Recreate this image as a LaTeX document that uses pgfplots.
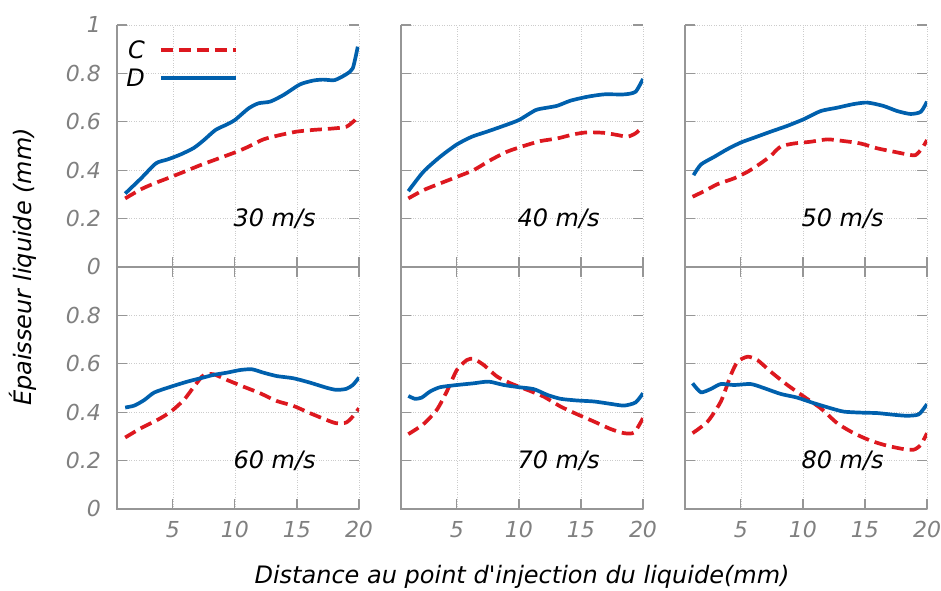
\documentclass[border=0pt]{standalone}
\usepackage{pgfplots}
\pgfplotsset{compat=1.18}
\usepgfplotslibrary{groupplots}
\usepackage{fontspec}
\setmainfont{DejaVu Sans}[Ligatures=TeXOff]
\definecolor{cred}{RGB}{221,24,31}
\definecolor{cblue}{RGB}{0,96,173}
\definecolor{axgray}{RGB}{150,150,150}
\definecolor{tickgray}{RGB}{128,128,128}
\newcommand{\lfont}{\itshape\fontsize{24}{28}\selectfont}
\newcommand{\tfont}{\itshape\fontsize{22}{26}\selectfont}
\tikzset{lab/.style={font=\lfont, text=black}}
\pgfplotsset{
 Cs/.style={cred, line width=3.7pt, dash pattern=on 12pt off 6pt, smooth, tension=0.4},
 Ds/.style={cblue, line width=3.7pt, smooth, tension=0.4},
 legend image code/.code={\path[draw=none, fill=none] (0pt,-2pt) rectangle (89pt,2pt);\draw[#1, line width=3.9pt] (14pt,0pt) -- (89pt,0pt);},
}
\begin{document}
\begin{tikzpicture}
\begin{groupplot}[
 group style={group size=3 by 2, horizontal sep=42pt, vertical sep=0pt,
   xticklabels at=edge bottom, yticklabels at=edge left},
 scale only axis, width=242pt, height=242pt,
 xmin=0.5, xmax=20, ymin=0, ymax=1,
 xtick={5,10,15,20}, ytick={0,0.2,0.4,0.6,0.8,1},
 grid=major, grid style={dotted, line width=0.6pt, gray!40},
 axis line style={draw=none},
 tick align=inside, major tick length=10pt,
 tick style={axgray, line width=1.2pt},
 /pgf/number format/assume math mode=true,
 ticklabel style={font=\tfont, text=tickgray, inner sep=0pt},
 xticklabel style={yshift=-12pt},
 yticklabel style={xshift=-16pt},
 label style={font=\lfont},
 extra description/.code={\draw[axgray, line width=1.2pt] (0,1) -- (0,0) -- (1,0);},
 no marks,
]
% ---------- 30 m/s
\nextgroupplot[xtick pos=bottom,
  legend style={at={(axis description cs:0.03,0.945)}, anchor=north west, draw=none, fill=none,
    font=\lfont, inner sep=0pt, row sep=5pt, nodes={inner sep=2pt}},
  legend plot pos=right, legend cell align=right]
\addplot[Cs] coordinates {(1.16,0.283)(2.44,0.321)(3.5,0.345)(4.57,0.366)(5.9,0.393)(7.24,0.421)(8.57,0.446)(10,0.473)(10.97,0.494)(12.3,0.527)(13.64,0.545)(14.97,0.559)(16.3,0.566)(17.9,0.572)(18.97,0.579)(19.64,0.605)(19.9,0.62)};
\addplot[Ds] coordinates {(1.16,0.303)(2.44,0.366)(3.64,0.428)(4.57,0.444)(5.64,0.465)(6.7,0.492)(7.5,0.524)(8.44,0.566)(9.37,0.589)(10,0.607)(11.1,0.655)(11.9,0.676)(12.84,0.683)(13.9,0.71)(15.24,0.754)(16.3,0.77)(17.1,0.774)(18.04,0.772)(18.97,0.796)(19.5,0.821)(19.9,0.91)};
\legend{C,D}
\node[lab] at (axis cs:13.2,0.2) {30 m/s};
% ---------- 40 m/s
\nextgroupplot[xtick pos=bottom]
\addplot[Cs] coordinates {(1.09,0.283)(2.3,0.317)(3.65,0.345)(5,0.372)(6.35,0.4)(7.7,0.441)(9.04,0.476)(10.4,0.5)(11.74,0.52)(13.1,0.531)(14.43,0.548)(15.5,0.556)(16.86,0.554)(17.94,0.545)(18.75,0.538)(19.4,0.552)(19.9,0.575)};
\addplot[Ds] coordinates {(1.09,0.313)(2.3,0.393)(3.65,0.455)(5,0.506)(6.21,0.538)(7.43,0.559)(8.77,0.583)(10,0.607)(11.35,0.648)(12.28,0.658)(13.1,0.666)(14.16,0.687)(15.5,0.703)(16.86,0.713)(18.5,0.713)(19.4,0.724)(20,0.777)};
\node[lab] at (axis cs:13.2,0.2) {40 m/s};
% ---------- 50 m/s
\nextgroupplot[xtick pos=bottom]
\addplot[Cs] coordinates {(1.11,0.29)(2.05,0.313)(3.12,0.342)(4.46,0.366)(5.54,0.393)(6.6,0.428)(7.41,0.459)(8.2,0.497)(9.28,0.51)(10.6,0.517)(11.97,0.527)(13.3,0.52)(14.65,0.51)(15.99,0.49)(17.33,0.476)(18.4,0.465)(19.07,0.462)(19.6,0.49)(20,0.524)};
\addplot[Ds] coordinates {(1.19,0.379)(1.78,0.423)(2.86,0.455)(3.93,0.487)(5,0.514)(6.07,0.534)(7.41,0.559)(8.75,0.583)(10.1,0.611)(11.43,0.644)(12.77,0.658)(14.1,0.673)(15.2,0.679)(16.5,0.665)(17.6,0.644)(18.67,0.632)(19.5,0.641)(20,0.683)};
\node[lab] at (axis cs:13.2,0.2) {50 m/s};
% ---------- 60 m/s
\nextgroupplot[ytick={0,0.2,0.4,0.6,0.8},
  ylabel={Épaisseur liquide (mm)},
  ylabel style={at={(axis description cs:-0.39,1)}, anchor=center, inner xsep=128pt, inner ysep=9pt}]
\addplot[Cs] coordinates {(1.16,0.295)(2.44,0.334)(3.77,0.368)(4.84,0.402)(5.9,0.451)(6.7,0.505)(7.5,0.554)(8.3,0.556)(9.36,0.533)(10.7,0.505)(12.03,0.478)(13.37,0.446)(14.7,0.426)(16.04,0.396)(17.37,0.368)(18.17,0.354)(18.97,0.357)(19.5,0.382)(20,0.416)};
\addplot[Ds] coordinates {(1.16,0.419)(1.9,0.427)(2.7,0.45)(3.5,0.481)(4.84,0.505)(6.17,0.526)(7.24,0.54)(8.3,0.554)(9.36,0.563)(10.43,0.574)(11.37,0.577)(12.3,0.563)(13.37,0.549)(14.7,0.54)(16.04,0.522)(17.37,0.501)(18.17,0.492)(18.97,0.496)(19.5,0.512)(20,0.543)};
\node[lab] at (axis cs:13.2,0.2) {60 m/s};
% ---------- 70 m/s
\nextgroupplot[ytick={0,0.2,0.4,0.6,0.8},
  xlabel={Distance au point d'injection du liquide(mm)},
  xlabel style={at={(axis description cs:0.5,-0.28)}, anchor=center, inner sep=2pt}]
\addplot[Cs] coordinates {(1.09,0.309)(2.3,0.35)(3.38,0.409)(4.19,0.485)(5,0.574)(5.8,0.615)(6.35,0.62)(7.16,0.595)(8.24,0.547)(9.33,0.519)(10.67,0.492)(12,0.464)(13.36,0.423)(14.7,0.391)(16.05,0.361)(17.4,0.33)(18.48,0.313)(19.29,0.316)(20,0.375)};
\addplot[Ds] coordinates {(1.09,0.467)(1.63,0.455)(2.17,0.46)(2.84,0.485)(3.65,0.503)(5,0.512)(6.35,0.519)(7.56,0.526)(8.79,0.512)(10,0.503)(11.2,0.495)(12.3,0.471)(13.36,0.455)(14.7,0.448)(16.05,0.444)(17.4,0.434)(18.48,0.427)(19.4,0.44)(20,0.478)};
\node[lab] at (axis cs:13.2,0.2) {70 m/s};
% ---------- 80 m/s
\nextgroupplot[ytick={0,0.2,0.4,0.6,0.8}]
\addplot[Cs] coordinates {(1.11,0.313)(2.32,0.361)(3.39,0.444)(4.2,0.554)(4.73,0.608)(5.54,0.629)(6.34,0.615)(7.41,0.567)(8.75,0.512)(10.08,0.464)(11.43,0.416)(12.77,0.354)(14.1,0.313)(15.46,0.282)(16.8,0.261)(18.14,0.247)(18.95,0.245)(19.5,0.265)(20,0.313)};
\addplot[Ds] coordinates {(1.11,0.519)(1.78,0.482)(2.59,0.496)(3.39,0.516)(4.46,0.512)(5.8,0.516)(6.88,0.499)(8.22,0.475)(9.54,0.46)(10.88,0.437)(12.24,0.416)(13.3,0.402)(14.65,0.398)(15.99,0.396)(17.33,0.389)(18.4,0.385)(19.34,0.391)(20,0.433)};
\node[lab] at (axis cs:13.2,0.2) {80 m/s};
\end{groupplot}
\end{tikzpicture}
\end{document}
